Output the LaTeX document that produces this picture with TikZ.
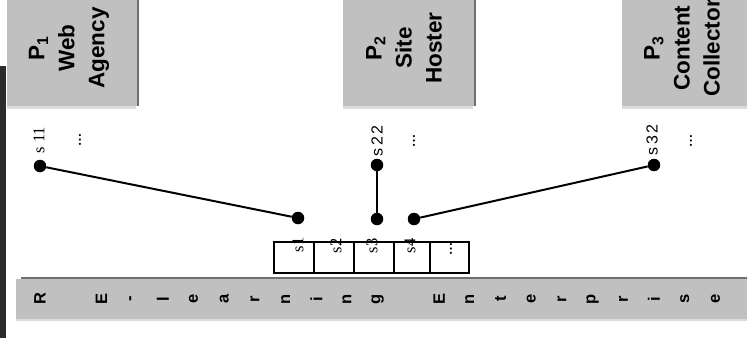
\documentclass[tikz,border=0pt]{standalone}
\usepackage{fontspec}
\setmainfont{Liberation Serif}
\newfontfamily\arialf{Liberation Sans}
\definecolor{boxgray}{HTML}{C0C0C0}
\definecolor{shadedark}{HTML}{707070}
\definecolor{shadelight}{HTML}{DCDCDC}
\definecolor{sidebar}{HTML}{2B2B2B}
\begin{document}
\begin{tikzpicture}[x=1pt,y=-1pt,
  ptext/.style={rotate=90, align=center, inner sep=0pt, font=\arialf\bfseries\fontsize{22.5}{30}\selectfont},
  barletter/.style={rotate=90, inner sep=0pt, font=\arialf\bfseries\fontsize{16.5}{18}\selectfont},
  dot/.style={circle, fill=black, minimum size=12.5pt, inner sep=0pt},
  cell/.style={draw, line width=1.3pt, minimum height=31pt, inner sep=0pt},
  slabel/.style={rotate=90, inner sep=0pt, font=\fontsize{16.5}{18}\selectfont},
  sslabel/.style={rotate=90, inner sep=0pt, font=\arialf\fontsize{16}{18}\selectfont},
  elabel/.style={rotate=90, inner sep=0pt, font=\bfseries\fontsize{13}{14}\selectfont},
  conn/.style={line width=2pt}
]
\useasboundingbox (0,0) rectangle (747,338);
\fill[white] (0,0) rectangle (747,338);
% left dark bar
\fill[sidebar] (0,66) rectangle (6,338);
% boxes with shadows
\foreach \xa/\xb in {7/137, 343/474, 622/753}{
  \fill[shadelight] (\xa,100) rectangle (\xb-1,109);
  \fill[shadedark] (\xb-4,-10) rectangle (\xb+2,106);
  \fill[boxgray] (\xa,-10) rectangle (\xb,106);
}
\node[ptext] (p1) at (69,48) {P\textsubscript{1}\\Web\\Agency};
\node[ptext] (p2) at (404,48) {P\textsubscript{2}\\Site\\Hoster};
\node[ptext] (p3) at (682,48) {P\textsubscript{3}\\Content\\Collector};
% bottom bar
\fill[shadelight] (16,300) rectangle (747,321);
\fill[shadedark] (21,277) rectangle (747,290);
\fill[boxgray] (16,279) rectangle (747,319);
\foreach \ch [count=\i from 0] in {R,{},E,-,l,e,a,r,n,i,n,g,{},E,n,t,e,r,p,r,i,s,e}{
  \node[barletter] (b\i) at ({40+30.7*\i},299) {\ch};
}
% cells
\node[cell, minimum width=40pt] (c1) at (294,257.5) {};
\node[cell, minimum width=40pt] (c2) at (334,257.5) {};
\node[cell, minimum width=40pt] (c3) at (374,257.5) {};
\node[cell, minimum width=36pt] (c4) at (412,257.5) {};
\node[cell, minimum width=39pt] (c5) at (449.5,257.5) {};
\node[slabel] (l1) at (298,245) {s1};
\node[slabel] (l2) at (336,246) {s2};
\node[slabel] (l3) at (372,246) {s3};
\node[slabel] (l4) at (410,246) {s4};
\node[elabel] (l5) at (451,249) {\ldots};
% dots
\node[dot] (s11) at (40,166) {};
\node[dot] (s22) at (377,165) {};
\node[dot] (s32) at (654,165) {};
\node[dot] (d1) at (298,218) {};
\node[dot] (d3) at (377,219) {};
\node[dot] (d4) at (414,219) {};
\draw[conn] (s11) -- (d1);
\draw[conn] (s22) -- (d3);
\draw[conn] (s32) -- (d4);
% top labels
\node[slabel] (t11) at (39,140) {s 11};
\node[sslabel] (t22) at (377,141) {s\,2\,2};
\node[sslabel] (t32) at (652,140) {s\,3\,2};
\node[elabel] (e1) at (80,140) {\ldots};
\node[elabel] (e2) at (414,141) {\ldots};
\node[elabel] (e3) at (691,141) {\ldots};
\end{tikzpicture}
\end{document}
